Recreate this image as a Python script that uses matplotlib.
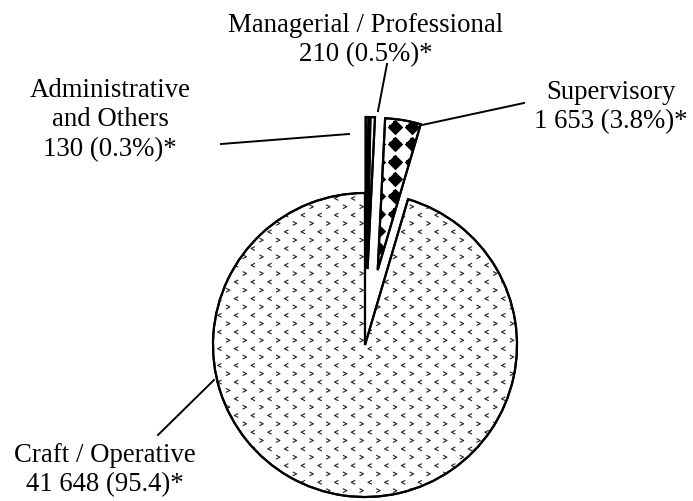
import matplotlib
matplotlib.use('Agg')
import matplotlib.pyplot as plt
import matplotlib.patches as mpatches
from matplotlib.path import Path
import numpy as np

plt.rcParams['font.family'] = ['Liberation Serif', 'DejaVu Serif']

# data
categories = ['Craft / Operative', 'Supervisory', 'Managerial / Professional', 'Administrative\nand Others']
counts = [41648, 1653, 210, 130]
value_labels = ['41 648 (95.4)*', '1 653 (3.8%)*', '210 (0.5%)*', '130 (0.3%)*']
explode = [0, 0.5, 0.5, 0.5]

# layout in pixels (y measured from the top)
radius = 152
label_pos = [(105, 470), (611, 107), (366, 40), (110, 120)]
leaders = [((158, 436), (214, 381)),
           ((524, 104), (422, 126)),
           ((387, 65), (378, 112)),
           ((221, 145), (349, 135))]

fig = plt.figure(figsize=(6.93, 5.02), dpi=100)
ax = fig.add_axes([0, 0, 1, 1])

# pie() offsets exploded wedges in data units, so scale by the radius
wedges, _ = ax.pie(counts, explode=[e * radius for e in explode], center=(365, 346), radius=radius,
                   startangle=-90, counterclock=False,
                   wedgeprops=dict(facecolor='white', edgecolor='black', linewidth=1.5))
ax.set_xlim(0, 693)
ax.set_ylim(502, 0)
ax.set_aspect('equal')
ax.axis('off')


def lattice(x0, y0, step):
    xs = np.arange(x0 % step - step, 693 + step, step)
    ys = np.arange(y0 % step - step, 502 + step, step)
    X, Y = np.meshgrid(xs, ys)
    return X.ravel(), Y.ravel()


# fill patterns
left_chev = Path([(1, 1), (-1, 0), (1, -1)], [Path.MOVETO, Path.LINETO, Path.LINETO])
right_chev = Path([(-1, 1), (1, 0), (-1, -1)], [Path.MOVETO, Path.LINETO, Path.LINETO])

px, py = lattice(253, 333, 16.7)
s1 = ax.scatter(px, py, marker=left_chev, s=8, facecolors='none', edgecolors='#222222', linewidths=0.8, zorder=2)
px, py = lattice(261.3, 341.3, 16.7)
s2 = ax.scatter(px, py, marker=right_chev, s=8, facecolors='none', edgecolors='#222222', linewidths=0.8, zorder=2)
s1.set_clip_path(wedges[0])
s2.set_clip_path(wedges[0])

px, py = lattice(395, 128, 17.3)
s3 = ax.scatter(px, py, marker='D', s=62, color='black', linewidths=0, zorder=2)
s4 = ax.scatter(px, py, marker='P', s=70, color='black', linewidths=0, zorder=2)
s3.set_clip_path(wedges[1])
s4.set_clip_path(wedges[1])

# redraw outlines over the patterns
for w in wedges:
    ax.add_patch(mpatches.Wedge(w.center, w.r, w.theta1, w.theta2, fill=False,
                                edgecolor='black', linewidth=1.6, zorder=3))

# labels and leader lines
for i in range(len(categories)):
    x, y = label_pos[i]
    ax.text(x, y, categories[i] + '\n' + value_labels[i], ha='center', va='center',
            fontsize=19.3, linespacing=1.25)
    (x0, y0), (x1, y1) = leaders[i]
    ax.plot([x0, x1], [y0, y1], color='black', linewidth=1.4, zorder=3)

fig.savefig('out.png', dpi=100)
